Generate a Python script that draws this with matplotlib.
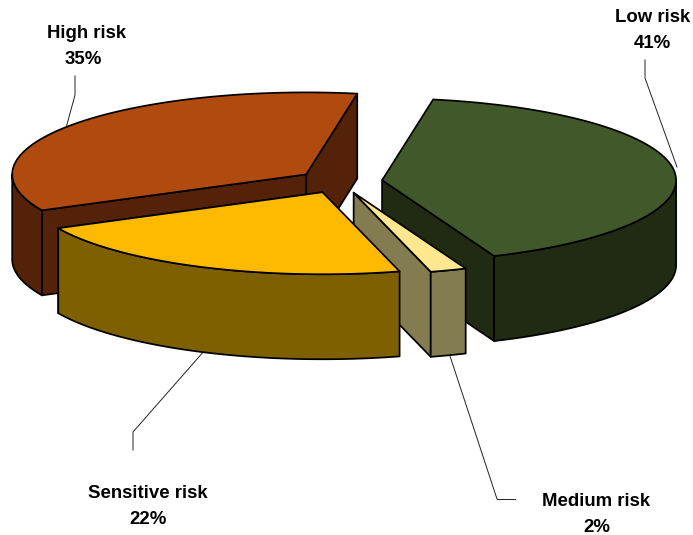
import numpy as np
import matplotlib
matplotlib.use("Agg")
import matplotlib.pyplot as plt
from matplotlib.patches import Polygon

# Slice data, in clockwise drawing order starting from the top of the pie
categories = ["Low risk", "Medium risk", "Sensitive risk", "High risk"]
shares = [41, 2, 22, 35]
top_colors = ["#41582B", "#FFE78F", "#FFBA00", "#B04A0E"]
side_colors = ["#212B14", "#837C50", "#7F6000", "#542208"]

# Projection of the tilted pie, in pixel units of the canvas
CX, CY = 340.0, 181.5
RX, RY = 294.0, 82.0
DEPTH = 85.0
EXPLODE = 0.144
START_ANGLE = 80.0

W, H = 693, 535
fig = plt.figure(figsize=(W / 100, H / 100), dpi=100, facecolor="white")
ax = fig.add_axes([0, 0, 1, 1])
ax.set_xlim(0, W)
ax.set_ylim(H, 0)
ax.axis("off")

LW = 1.25


def arc_points(apex, a0, a1, n=80):
    t = np.radians(np.linspace(a0, a1, n))
    return np.column_stack([apex[0] + RX * np.cos(t), apex[1] - RY * np.sin(t)])


def face(points, color, z):
    ax.add_patch(Polygon(points, closed=True, facecolor=color, edgecolor="black",
                         linewidth=LW, joinstyle="round", zorder=z))


def drop(points):
    return np.asarray(points) + [0, DEPTH]


def wall(p, q, color, z):
    pts = np.array([p, q])
    face(np.vstack([pts, drop(pts)[::-1]]), color, z)


# Work out each slice's angular range and exploded apex from its share
spans = np.array(shares) * 3.6
ends = START_ANGLE - np.cumsum(spans)
starts = ends + spans
slices = []
for s, e, top, side in zip(starts, ends, top_colors, side_colors):
    mid = np.radians((s + e) / 2)
    apex = np.array([CX + EXPLODE * RX * np.cos(mid), CY - EXPLODE * RY * np.sin(mid)])
    slices.append((s, e, apex, top, side))

# Painter's order: back slices first, front slices last
for z, idx in enumerate([3, 0, 1, 2]):
    s, e, apex, top, side = slices[idx]
    z0 = 2 + z * 4
    arc = arc_points(apex, s, e)
    # Straight cut faces, visible where they turn toward the viewer
    if np.sin(np.radians(e)) < 0 or idx == 3:
        wall(apex, arc[-1], side, z0)
    if idx == 3:
        wall(apex, arc[0], side, z0)
    # Outer rim: only the part on the near half of the ellipse shows
    lo, hi = min(s, e), max(s, e)
    rim = []
    for k in (-1, 0):
        a = max(lo, 180 + 360 * k)
        b = min(hi, 360 + 360 * k)
        if b > a:
            rim.append((a, b))
    for a, b in rim:
        edge = arc_points(apex, a, b)
        face(np.vstack([edge, drop(edge)[::-1]]), side, z0 + 1)
    face(np.vstack([apex, arc]), top, z0 + 2)

# Leader lines from the labels to their slices
leaders = [
    ([645, 645, 677], [60, 78, 167]),
    ([497, 515], [499, 499]),
    ([450, 497], [356, 499]),
    ([133, 133, 205], [450, 432, 350]),
    ([75, 75, 66], [76, 95, 128]),
]
for xs, ys in leaders:
    ax.plot(xs, ys, color="#222222", lw=0.7, zorder=1)

label_positions = [(653, 17, 652, 44), (596, 501, 597, 528), (148, 494, 148, 520), (87, 33, 83, 59)]
for name, pct, (x1, y1, x2, y2) in zip(categories, shares, label_positions):
    for x, y, txt in ((x1, y1, name), (x2, y2, f"{pct}%")):
        ax.text(x, y, txt, ha="center", va="center", fontsize=13.4, fontweight="bold",
                family=["Liberation Sans", "DejaVu Sans"], color="black", zorder=40)

fig.savefig("out.png", dpi=100, facecolor="white")
